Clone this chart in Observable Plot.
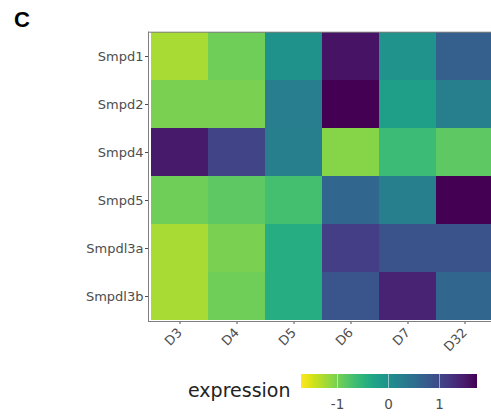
<!DOCTYPE html>
<html>
<head>
<meta charset="utf-8">
<script src="https://cdn.jsdelivr.net/npm/d3@7"></script>
<script src="https://cdn.jsdelivr.net/npm/@observablehq/plot@0.6"></script>
<style>
  html, body { margin: 0; padding: 0; background: #fff; overflow: hidden; }
  #wrap { position: relative; width: 491px; height: 416px; background: #fff; overflow: hidden; }
  #panel { position: absolute; left: 14px; top: 7px; font: bold 22px "Liberation Sans", Arial, sans-serif; color: #000; }
  #chart { position: absolute; left: 0; top: 0; width: 500px; }
  #chart svg { max-width: none !important; width: 496px !important; }
  #legtitle { position: absolute; left: 188px; top: 379px; font: 19px "DejaVu Sans", sans-serif; color: #222; }
  #legend { position: absolute; left: 301px; top: 374px; }
  #legend .tick line { stroke: #fff; stroke-opacity: 0.5; }
</style>
</head>
<body>
<div id="wrap">
  <div id="chart"></div>
  <div id="panel">C</div>
  <div id="legtitle">expression</div>
  <div id="legend"></div>
</div>
<script>
const genes = ["Smpd1", "Smpd2", "Smpd4", "Smpd5", "Smpdl3a", "Smpdl3b"];
const days = ["D3", "D4", "D5", "D6", "D7", "D32"];
const Smpd1 = [-1.25, -0.94, 0.00, 1.58, -0.02, 0.72];
const Smpd2 = [-1.01, -1.01, 0.30, 1.75, -0.18, 0.27];
const Smpd4 = [1.51, 1.06, 0.27, -1.08, -0.60, -0.84];
const Smpd5 = [-0.94, -0.84, -0.67, 0.61, 0.27, 1.75];
const Smpdl3a = [-1.25, -1.01, -0.39, 1.12, 0.87, 0.87];
const Smpdl3b = [-1.25, -0.94, -0.39, 0.85, 1.42, 0.61];
const legendTicks = [-1, 0, 1];
const colorDomain = [-1.7, 1.75];

const rows = {Smpd1, Smpd2, Smpd4, Smpd5, Smpdl3a, Smpdl3b};
const data = [];
for (const g of genes) rows[g].forEach((v, i) => data.push({gene: g, day: days[i], expression: v}));

const plot = Plot.plot({
  width: 496,
  height: 360,
  marginTop: 31.7,
  marginLeft: 148,
  marginRight: 0.4,
  marginBottom: 39,
  style: {fontFamily: "DejaVu Sans, sans-serif", fontSize: "13px", color: "#4d4d4d", background: "#fff"},
  x: {domain: days, padding: 0, label: null, tickRotate: -45, tickSize: 3, tickPadding: 6},
  y: {domain: genes, padding: 0, label: null, tickSize: 3, tickPadding: 2},
  color: {type: "linear", scheme: "viridis", reverse: true, domain: colorDomain, label: null},
  marks: [
    Plot.cell(data, {x: "day", y: "gene", fill: "expression", inset: 0}),
    Plot.frame({anchor: "left", stroke: "#7f7f7f", strokeWidth: 1}),
    Plot.frame({anchor: "top", stroke: "#7f7f7f", strokeWidth: 1}),
    Plot.frame({anchor: "bottom", stroke: "#7f7f7f", strokeWidth: 1})
  ]
});
document.getElementById("chart").appendChild(plot);

const leg = plot.legend("color", {
  width: 176,
  height: 44,
  marginTop: 0,
  marginBottom: 30,
  marginLeft: 0,
  marginRight: 0,
  tickSize: 0,
  ticks: legendTicks,
  tickFormat: d => String(d),
  label: null,
  style: {fontFamily: "DejaVu Sans, sans-serif", fontSize: "13.5px", color: "#4d4d4d", background: "transparent"}
});
document.getElementById("legend").appendChild(leg);
d3.select(leg).selectAll(".tick text").attr("y", 11);
</script>
</body>
</html>
